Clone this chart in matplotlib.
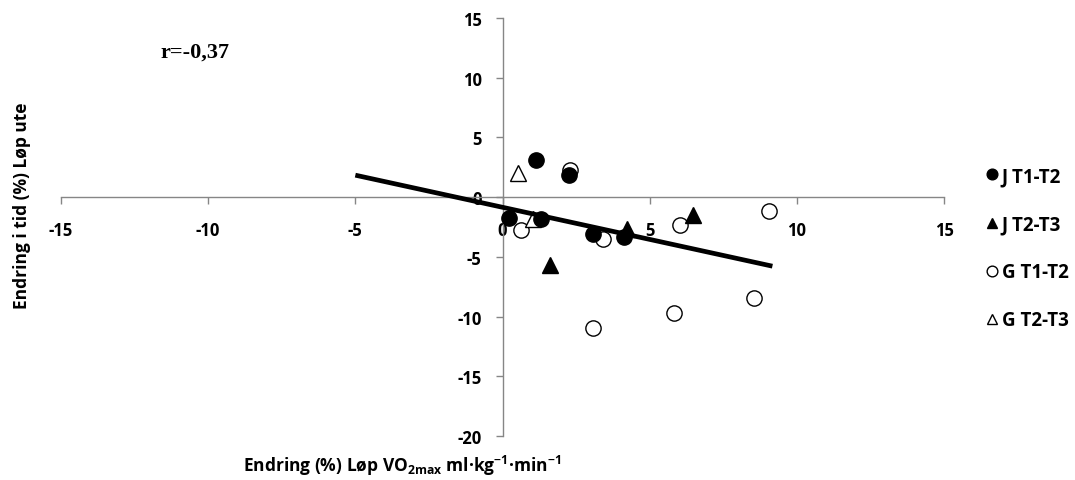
import matplotlib
matplotlib.use("Agg")
import matplotlib.pyplot as plt

# J T1-T2 (fylte sirkler)
jt12_x = [1.14, 2.27, 0.22, 1.30, 3.06, 4.14]
jt12_y = [3.10, 1.85, -1.75, -1.80, -3.10, -3.35]

# J T2-T3 (fylte trekanter)
jt23_x = [6.48, 1.61, 4.22]
jt23_y = [-1.52, -5.64, -2.68]

# G T1-T2 (åpne sirkler)
gt12_x = [2.29, 0.62, 3.42, 6.03, 9.06, 8.54, 5.82, 3.06]
gt12_y = [2.29, -2.79, -3.48, -2.37, -1.20, -8.46, -9.68, -10.97]

# G T2-T3 (åpne trekanter)
gt23_x = [0.54, 1.05]
gt23_y = [2.05, -1.85]

# trendlinje
fit_x = [-5.0, 9.17]
fit_y = [1.84, -5.78]

x_ticks = [-15, -10, -5, 0, 5, 10, 15]
y_ticks = [-20, -15, -10, -5, 0, 5, 10, 15]

FONT = 'Open Sans'
plt.rcParams['font.family'] = [FONT, 'DejaVu Sans']
plt.rcParams['font.weight'] = 'bold'
plt.rcParams['axes.unicode_minus'] = False
plt.rcParams['mathtext.fontset'] = 'custom'
plt.rcParams['mathtext.rm'] = FONT + ':bold'
plt.rcParams['mathtext.it'] = FONT + ':bold'
plt.rcParams['mathtext.bf'] = FONT + ':bold'

AXIS_COLOR = "#868686"
W, H = 1075, 481

fig = plt.figure(figsize=(W / 100, H / 100), dpi=100)
ax = fig.add_axes([61 / W, 1 - 437 / H, (944 - 61) / W, (437 - 19) / H])

ax.set_xlim(-15, 15)
ax.set_ylim(-20, 15)
ax.set_xticks(x_ticks)
ax.set_yticks(y_ticks)
ax.set_xticklabels([str(t) for t in x_ticks])
ax.set_yticklabels([str(t) for t in y_ticks])

ax.spines['left'].set_position(('data', 0))
ax.spines['bottom'].set_position(('data', 0))
ax.spines['top'].set_visible(False)
ax.spines['right'].set_visible(False)
for s in ('left', 'bottom'):
    ax.spines[s].set_color(AXIS_COLOR)
    ax.spines[s].set_linewidth(1)

ax.tick_params(direction='out', length=5, width=1, color=AXIS_COLOR, labelsize=12)
ax.tick_params(axis='x', pad=12)
ax.tick_params(axis='y', pad=10)

ms = 11
ax.plot(gt12_x, gt12_y, 'o', ms=ms, mfc='white', mec='black', mew=1, ls='none', label='G T1-T2', zorder=2)
ax.plot(gt23_x, gt23_y, '^', ms=ms, mfc='white', mec='black', mew=1, ls='none', label='G T2-T3', zorder=2.2)
ax.plot(jt23_x, jt23_y, '^', ms=ms, mfc='black', mec='black', mew=1, ls='none', label='J T2-T3', zorder=2.5)
ax.plot(jt12_x, jt12_y, 'o', ms=ms, mfc='black', mec='black', mew=1, ls='none', label='J T1-T2', zorder=3)
ax.plot(fit_x, fit_y, color='black', lw=3.4, solid_capstyle='butt', zorder=4)

handles, labels = ax.get_legend_handles_labels()
order = ['J T1-T2', 'J T2-T3', 'G T1-T2', 'G T2-T3']
hmap = dict(zip(labels, handles))
ax.legend([hmap[k] for k in order], order, loc='upper left',
          bbox_to_anchor=(986 / W, 1 - 167 / H), bbox_transform=fig.transFigure,
          frameon=False, handlelength=0.6, handletextpad=0.25, labelspacing=1.5,
          markerscale=0.7, fontsize=13.5, borderpad=0, borderaxespad=0)

fig.text(160 / W, 1 - 53 / H, 'r=-0,37', family='Liberation Serif', weight='bold',
         fontsize=16, va='center', ha='left')

fig.text(402 / W, 1 - 466 / H,
         r'Endring (%) Løp VO$_{\mathrm{2max}}$ ml·kg$^{\mathrm{-1}}$·min$^{\mathrm{-1}}$',
         ha='center', va='center', fontsize=12.5)
fig.text(22 / W, 1 - 206 / H, 'Endring i tid (%) Løp ute', rotation=90,
         ha='center', va='center', fontsize=12.5)

fig.savefig("out.png", dpi=100)
